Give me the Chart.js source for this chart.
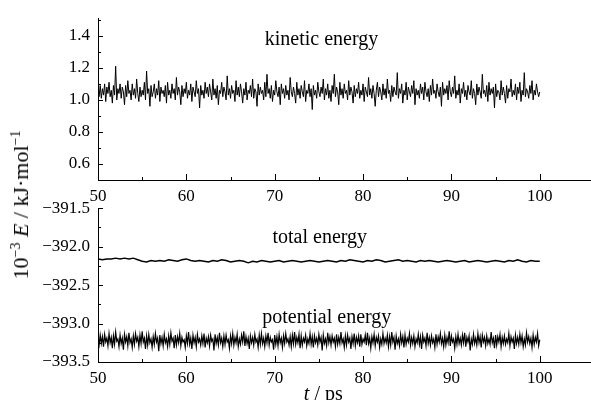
<!DOCTYPE html>
<html>
<head>
<meta charset="utf-8">
<script src="https://cdn.jsdelivr.net/npm/chart.js@4/dist/chart.umd.min.js"></script>
<style>
    html, body { margin: 0; padding: 0; background: #fff; }
    #wrap { position: relative; width: 591px; height: 400px; overflow: hidden; }
    .panel { position: absolute; left: 0; }
    #ytitle {
        position: absolute; left: 21px; top: 205px;
        transform: translate(-50%, -50%) rotate(-90deg);
        font: 22px "Liberation Serif", serif; white-space: nowrap; color: #000;
    }
    #ytitle sup { font-size: 14px; vertical-align: 8px; line-height: 0; }
</style>
</head>
<body>
<div id="wrap">
    <canvas id="top-chart" class="panel" width="591" height="210" style="top:0"></canvas>
    <canvas id="bottom-chart" class="panel" width="591" height="210" style="top:190px"></canvas>
    <div id="ytitle">10<sup>−3</sup> <i>E</i> / kJ·mol<sup>−1</sup></div>
</div>
<script>
const T_START = 50;
const DT_FAST = 0.125;  // sampling of kinetic / potential curves (ps)
const DT_SLOW = 0.5;    // sampling of total energy curve (ps)

const X_MAJOR = [50, 60, 70, 80, 90, 100];
const X_MINOR = [55, 65, 75, 85, 95];
const KIN_MAJOR = [0.6, 0.8, 1.0, 1.2, 1.4];
const KIN_MINOR = [0.5, 0.7, 0.9, 1.1, 1.3, 1.5];
const POT_MAJOR = [-393.5, -393.0, -392.5, -392.0, -391.5];
const POT_MINOR = [-393.25, -392.75, -392.25, -391.75];

const kinetic = [
    1.06, 1.02, 1.09, 1.01, 1.07, 1.03, 1.10, 0.99, 1.08, 1.04,
    1.11, 1.02, 1.06, 0.98, 1.09, 1.03, 1.21, 1.00, 1.07, 1.04,
    1.10, 1.01, 1.08, 1.05, 0.97, 1.09, 1.02, 1.12, 1.04, 1.06,
    1.00, 1.10, 1.03, 1.07, 1.01, 1.13, 1.04, 0.99, 1.08, 1.02,
    1.06, 1.03, 1.11, 1.00, 1.18, 1.04, 1.07, 0.96, 1.09, 1.02,
    1.05, 1.10, 1.01, 1.07, 1.03, 1.12, 0.99, 1.08, 1.04, 1.06,
    1.02, 1.09, 0.98, 1.11, 1.03, 1.06, 1.01, 1.10, 1.04, 1.07,
    1.00, 1.14, 1.03, 1.08, 1.05, 0.97, 1.09, 1.02, 1.07, 1.04,
    1.11, 1.01, 1.06, 1.03, 1.10, 0.99, 1.08, 1.05, 1.02, 1.12,
    1.04, 1.07, 0.95, 1.09, 1.03, 1.06, 1.01, 1.11, 1.04, 1.08,
    1.02, 1.10, 1.05, 1.00, 1.13, 1.03, 1.07, 1.01, 1.09, 0.97,
    1.06, 1.04, 1.11, 1.02, 1.08, 1.05, 1.00, 1.15, 1.03, 1.07,
    1.01, 1.09, 1.04, 1.06, 0.99, 1.12, 1.03, 1.08, 1.02, 1.10,
    1.05, 0.98, 1.07, 1.03, 1.11, 1.00, 1.06, 1.04, 1.09, 1.02,
    1.13, 1.01, 1.07, 1.05, 0.96, 1.10, 1.03, 1.08, 1.04, 1.06,
    1.00, 1.11, 1.02, 1.16, 1.04, 1.07, 1.01, 1.09, 0.99, 1.06,
    1.03, 1.12, 1.05, 1.02, 1.08, 0.97, 1.10, 1.04, 1.07, 1.01,
    1.09, 1.03, 1.06, 1.00, 1.14, 1.05, 1.02, 1.08, 1.04, 0.98,
    1.11, 1.03, 1.07, 1.01, 1.09, 1.05, 1.02, 1.12, 0.99, 1.06,
    1.04, 1.10, 1.02, 1.07, 0.94, 1.09, 1.03, 1.06, 1.01, 1.11,
    1.05, 1.02, 1.08, 1.04, 1.13, 1.00, 1.07, 1.03, 1.10, 1.01,
    1.06, 0.99, 1.09, 1.04, 1.16, 1.02, 1.08, 1.05, 0.97, 1.11,
    1.03, 1.07, 1.01, 1.10, 1.04, 1.06, 1.00, 1.12, 1.03, 1.08,
    1.05, 0.98, 1.09, 1.02, 1.07, 1.04, 1.11, 1.01, 1.06, 1.03,
    1.10, 0.99, 1.08, 1.05, 1.02, 1.14, 1.03, 1.07, 1.01, 1.09,
    1.04, 0.96, 1.06, 1.11, 1.02, 1.08, 1.05, 1.00, 1.10, 1.03,
    1.07, 1.01, 1.13, 1.04, 1.06, 0.99, 1.09, 1.02, 1.08, 1.05,
    1.03, 1.17, 1.01, 1.07, 1.04, 1.10, 0.98, 1.06, 1.03, 1.11,
    1.00, 1.08, 1.05, 1.02, 1.09, 1.04, 1.12, 0.97, 1.07, 1.03,
    1.06, 1.01, 1.10, 1.04, 1.08, 1.00, 1.11, 1.05, 1.02, 1.07,
    0.99, 1.09, 1.03, 1.13, 1.04, 1.06, 1.01, 1.10, 1.05, 1.02,
    1.08, 0.96, 1.11, 1.03, 1.07, 1.04, 1.09, 1.00, 1.12, 1.05,
    1.02, 1.08, 1.04, 1.15, 1.01, 1.06, 1.03, 1.10, 0.98, 1.07,
    1.04, 1.11, 1.02, 1.06, 1.00, 1.09, 1.05, 1.03, 1.12, 1.01,
    1.07, 1.04, 0.97, 1.10, 1.03, 1.08, 1.05, 1.01, 1.16, 1.04,
    1.06, 1.02, 1.09, 0.99, 1.11, 1.03, 1.07, 1.04, 1.08, 0.95,
    1.10, 1.02, 1.06, 1.05, 1.00, 1.12, 1.03, 1.08, 1.04, 0.98,
    1.09, 1.01, 1.07, 1.05, 1.13, 1.02, 1.06, 1.03, 1.10, 1.00,
    1.08, 1.04, 1.11, 0.99, 1.06, 1.03, 1.17, 1.02, 1.07, 1.05,
    1.01, 1.09, 1.04, 1.12, 1.00, 1.06, 1.03, 1.10, 1.05, 1.02,
    1.05
];

const potential = [
    -393.21, -393.28, -393.15, -393.26, -393.17, -393.30, -393.14, -393.24, -393.19, -393.29,
    -393.13, -393.25, -393.18, -393.32, -393.16, -393.27, -393.11, -393.23, -393.20, -393.30,
    -393.15, -393.26, -393.19, -393.34, -393.14, -393.24, -393.17, -393.29, -393.12, -393.25,
    -393.20, -393.31, -393.16, -393.27, -393.13, -393.23, -393.18, -393.30, -393.15, -393.26,
    -393.10, -393.24, -393.19, -393.33, -393.16, -393.28, -393.14, -393.25, -393.20, -393.31,
    -393.17, -393.27, -393.13, -393.24, -393.19, -393.36, -393.15, -393.26, -393.18, -393.29,
    -393.14, -393.25, -393.20, -393.30, -393.16, -393.27, -393.12, -393.23, -393.19, -393.32,
    -393.15, -393.28, -393.17, -393.25, -393.13, -393.29, -393.18, -393.24, -393.21, -393.31,
    -393.16, -393.26, -393.11, -393.27, -393.19, -393.33, -393.15, -393.25, -393.18, -393.30,
    -393.14, -393.24, -393.20, -393.28, -393.16, -393.26, -393.13, -393.31, -393.19, -393.25,
    -393.17, -393.29, -393.15, -393.23, -393.20, -393.35, -393.14, -393.26, -393.18, -393.28,
    -393.12, -393.25, -393.19, -393.30, -393.16, -393.27, -393.15, -393.24, -393.21, -393.32,
    -393.16, -393.26, -393.13, -393.28, -393.18, -393.25, -393.14, -393.30, -393.20, -393.27,
    -393.15, -393.24, -393.10, -393.29, -393.17, -393.26, -393.19, -393.33, -393.16, -393.25,
    -393.18, -393.28, -393.14, -393.24, -393.20, -393.31, -393.15, -393.27, -393.13, -393.26,
    -393.19, -393.30, -393.16, -393.25, -393.12, -393.28, -393.18, -393.24, -393.21, -393.34,
    -393.15, -393.27, -393.17, -393.29, -393.14, -393.25, -393.19, -393.31, -393.16, -393.26,
    -393.13, -393.24, -393.20, -393.28, -393.17, -393.30, -393.15, -393.26, -393.11, -393.27,
    -393.18, -393.25, -393.14, -393.32, -393.16, -393.28, -393.19, -393.24, -393.15, -393.29,
    -393.20, -393.26, -393.13, -393.27, -393.17, -393.31, -393.16, -393.25, -393.19, -393.28,
    -393.14, -393.24, -393.18, -393.35, -393.15, -393.26, -393.20, -393.29, -393.12, -393.25,
    -393.17, -393.28, -393.16, -393.24, -393.19, -393.30, -393.14, -393.27, -393.18, -393.26,
    -393.11, -393.25, -393.20, -393.31, -393.16, -393.28, -393.15, -393.24, -393.19, -393.33,
    -393.17, -393.26, -393.13, -393.29, -393.18, -393.25, -393.16, -393.30, -393.14, -393.27,
    -393.20, -393.24, -393.15, -393.28, -393.12, -393.26, -393.19, -393.32, -393.17, -393.25,
    -393.14, -393.29, -393.18, -393.24, -393.16, -393.31, -393.20, -393.27, -393.13, -393.26,
    -393.19, -393.25, -393.15, -393.30, -393.17, -393.28, -393.11, -393.24, -393.18, -393.34,
    -393.16, -393.26, -393.20, -393.29, -393.14, -393.25, -393.17, -393.31, -393.15, -393.27,
    -393.19, -393.24, -393.13, -393.28, -393.18, -393.26, -393.16, -393.30, -393.20, -393.25,
    -393.14, -393.27, -393.17, -393.33, -393.15, -393.24, -393.19, -393.29, -393.12, -393.26,
    -393.18, -393.28, -393.16, -393.25, -393.20, -393.31, -393.14, -393.27, -393.17, -393.24,
    -393.13, -393.26, -393.19, -393.30, -393.15, -393.28, -393.18, -393.25, -393.10, -393.29,
    -393.16, -393.24, -393.20, -393.32, -393.17, -393.27, -393.14, -393.26, -393.19, -393.28,
    -393.15, -393.25, -393.12, -393.30, -393.18, -393.24, -393.16, -393.35, -393.20, -393.27,
    -393.14, -393.26, -393.19, -393.28, -393.13, -393.25, -393.17, -393.31, -393.15, -393.24,
    -393.18, -393.29, -393.16, -393.26, -393.20, -393.27, -393.11, -393.25, -393.19, -393.32,
    -393.15, -393.28, -393.17, -393.24, -393.14, -393.30, -393.18, -393.26, -393.16, -393.27,
    -393.20, -393.25, -393.13, -393.29, -393.17, -393.24, -393.19, -393.33, -393.15, -393.26,
    -393.18, -393.27, -393.14, -393.25, -393.16, -393.30, -393.20, -393.28, -393.12, -393.24,
    -393.17, -393.26, -393.19, -393.31, -393.15, -393.27, -393.18, -393.24, -393.13, -393.29,
    -393.21
];

const total = [
    -392.16, -392.17, -392.16, -392.16, -392.15, -392.16, -392.15, -392.16, -392.15, -392.17,
    -392.19, -392.20, -392.18, -392.19, -392.18, -392.19, -392.17, -392.18, -392.19, -392.17,
    -392.16, -392.18, -392.19, -392.18, -392.19, -392.20, -392.18, -392.19, -392.17, -392.18,
    -392.20, -392.19, -392.18, -392.19, -392.21, -392.19, -392.20, -392.18, -392.19, -392.20,
    -392.19, -392.18, -392.20, -392.19, -392.18, -392.19, -392.20, -392.19, -392.18, -392.19,
    -392.20, -392.19, -392.18, -392.19, -392.20, -392.18, -392.19, -392.17, -392.18, -392.19,
    -392.20, -392.18, -392.19, -392.17, -392.18, -392.20, -392.19, -392.18, -392.17, -392.19,
    -392.18, -392.19, -392.20, -392.18, -392.19, -392.18, -392.19, -392.20, -392.19, -392.18,
    -392.19, -392.20, -392.19, -392.18, -392.20, -392.19, -392.18, -392.19, -392.20, -392.19,
    -392.18, -392.19, -392.20, -392.18, -392.19, -392.17, -392.19, -392.20, -392.18, -392.19,
    -392.19
];

const SERIF = '"Liberation Serif", "Times New Roman", serif';

function toPoints(values, dt) {
    return values.map((v, i) => ({ x: T_START + i * dt, y: v }));
}

function minus(v, digits) {
    return v.toFixed(digits).replace('-', '\u2212');
}

// inward tick marks (major + minor) on left and bottom axes
const innerTicks = {
    id: 'innerTicks',
    afterDraw(chart, args, opts) {
        const { ctx, chartArea, scales } = chart;
        ctx.save();
        ctx.strokeStyle = '#000';
        ctx.lineWidth = 1;
        ctx.beginPath();
        const drawX = (list, len) => list.forEach(v => {
            const px = Math.round(scales.x.getPixelForValue(v)) + 0.5;
            ctx.moveTo(px, chartArea.bottom);
            ctx.lineTo(px, chartArea.bottom - len);
        });
        const drawY = (list, len) => list.forEach(v => {
            const py = Math.round(scales.y.getPixelForValue(v)) + 0.5;
            ctx.moveTo(chartArea.left, py);
            ctx.lineTo(chartArea.left + len, py);
        });
        drawX(X_MAJOR, 6);
        drawX(X_MINOR, 3);
        drawY(opts.yMajor, 5);
        drawY(opts.yMinor, 3);
        ctx.stroke();
        ctx.restore();
    }
};

// curve names and the x axis title
const notes = {
    id: 'notes',
    afterDraw(chart, args, opts) {
        const { ctx, scales } = chart;
        ctx.save();
        ctx.fillStyle = '#000';
        ctx.textAlign = 'center';
        ctx.textBaseline = 'middle';
        ctx.font = '20px ' + SERIF;
        (opts.items || []).forEach(n => {
            ctx.fillText(n.text, scales.x.getPixelForValue(n.x), scales.y.getPixelForValue(n.y));
        });
        if (opts.xTitle) {
            const cx = scales.x.getPixelForValue(75.5);
            const y = chart.chartArea.bottom + 33;
            ctx.font = 'italic 20px ' + SERIF;
            const wt = ctx.measureText('t').width;
            ctx.font = '20px ' + SERIF;
            const wr = ctx.measureText(' / ps').width;
            const x0 = cx - (wt + wr) / 2;
            ctx.textAlign = 'left';
            ctx.font = 'italic 20px ' + SERIF;
            ctx.fillText('t', x0, y);
            ctx.font = '20px ' + SERIF;
            ctx.fillText(' / ps', x0 + wt, y);
        }
        ctx.restore();
    }
};

function axisX(height) {
    return {
        type: 'linear',
        min: 50,
        max: 105.8,
        afterBuildTicks: s => { s.ticks = X_MAJOR.map(v => ({ value: v })); },
        afterFit: s => { s.height = height; },
        grid: { display: false, drawTicks: false },
        border: { color: '#000', width: 1 },
        ticks: { color: '#000', padding: 6, maxRotation: 0, font: { family: SERIF, size: 17 } }
    };
}

function axisY(min, max, major, digits) {
    return {
        min, max,
        afterBuildTicks: s => { s.ticks = major.map(v => ({ value: v })); },
        afterFit: s => { s.width = 98; },
        grid: { display: false, drawTicks: false },
        border: { color: '#000', width: 1 },
        ticks: {
            color: '#000', padding: 8,
            font: { family: SERIF, size: 17 },
            callback: v => minus(v, digits)
        }
    };
}

const common = {
    responsive: false,
    animation: false,
    events: [],
    plugins: { legend: { display: false }, tooltip: { enabled: false } }
};

new Chart(document.getElementById('top-chart'), {
    type: 'line',
    data: {
        datasets: [{
            data: toPoints(kinetic, DT_FAST),
            borderColor: '#000', borderWidth: 1, pointRadius: 0, tension: 0
        }]
    },
    options: {
        ...common,
        layout: { padding: { top: 13, left: 0, right: 0, bottom: 0 } },
        scales: { x: axisX(30), y: axisY(0.5, 1.51, KIN_MAJOR, 1) },
        plugins: {
            ...common.plugins,
            innerTicks: { yMajor: KIN_MAJOR, yMinor: KIN_MINOR },
            notes: { items: [{ text: 'kinetic energy', x: 75.3, y: 1.374 }] }
        }
    },
    plugins: [innerTicks, notes]
});

new Chart(document.getElementById('bottom-chart'), {
    type: 'line',
    data: {
        datasets: [
            {
                data: toPoints(total, DT_SLOW),
                borderColor: '#000', borderWidth: 1.4, pointRadius: 0, tension: 0
            },
            {
                data: toPoints(potential, DT_FAST),
                borderColor: '#000', borderWidth: 1.2, pointRadius: 0, tension: 0
            }
        ]
    },
    options: {
        ...common,
        layout: { padding: { top: 13, left: 0, right: 0, bottom: 0 } },
        scales: { x: axisX(38), y: axisY(-393.5, -391.5, POT_MAJOR, 1) },
        plugins: {
            ...common.plugins,
            innerTicks: { yMajor: POT_MAJOR, yMinor: POT_MINOR },
            notes: {
                items: [
                    { text: 'total energy', x: 75.1, y: -391.88 },
                    { text: 'potential energy', x: 75.9, y: -392.93 }
                ],
                xTitle: true
            }
        }
    },
    plugins: [innerTicks, notes]
});
</script>
</body>
</html>
